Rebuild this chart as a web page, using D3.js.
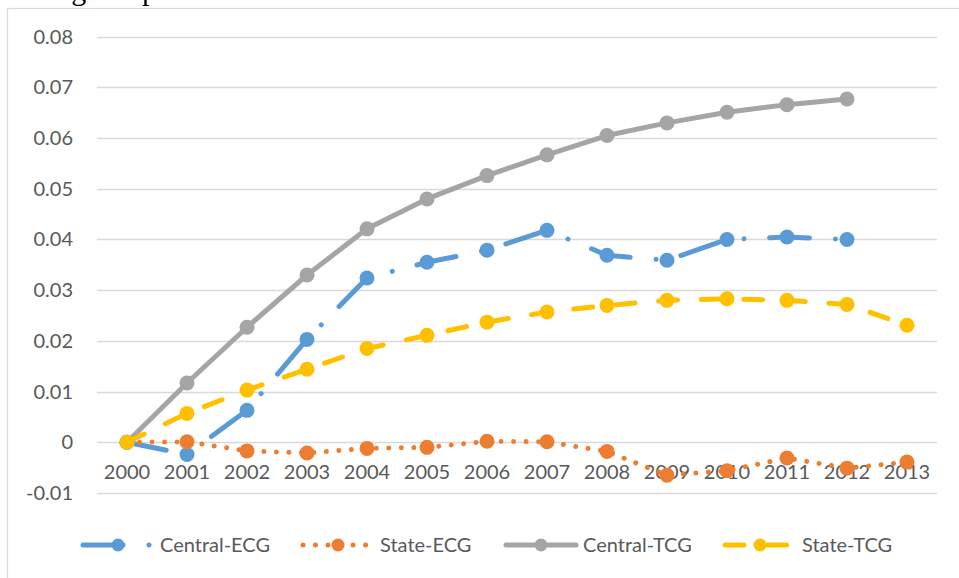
<!DOCTYPE html>
<html>
<head>
<meta charset="utf-8">
<script src="https://cdn.jsdelivr.net/npm/d3@7"></script>
<style>
  html, body { margin: 0; padding: 0; background: #fff; }
  svg { display: block; }
  text { font-family: Lato, "Open Sans", sans-serif; fill: #595959; }
</style>
</head>
<body>
<svg id="chart" width="959" height="578"></svg>
<script>
// Growth series by year
const years = ["2000","2001","2002","2003","2004","2005","2006","2007","2008","2009","2010","2011","2012","2013"];
const centralECG = [0, -0.0024, 0.0063, 0.0203, 0.0324, 0.0355, 0.0379, 0.0418, 0.0369, 0.0359, 0.0400, 0.0405, 0.0400, null];
const stateECG   = [0, 0.0001, -0.0017, -0.0021, -0.0012, -0.0010, 0.0002, 0.0001, -0.0018, -0.0065, -0.0056, -0.0031, -0.0051, -0.0039];
const centralTCG = [0, 0.0117, 0.0227, 0.0330, 0.0421, 0.0480, 0.0526, 0.0567, 0.0605, 0.0630, 0.0651, 0.0666, 0.0677, null];
const stateTCG   = [0, 0.0057, 0.0103, 0.0144, 0.0185, 0.0211, 0.0237, 0.0257, 0.0270, 0.0280, 0.0283, 0.0280, 0.0272, 0.0231];
const yTicks = [-0.01, 0, 0.01, 0.02, 0.03, 0.04, 0.05, 0.06, 0.07, 0.08];
const yTickLabels = ["-0.01", "0", "0.01", "0.02", "0.03", "0.04", "0.05", "0.06", "0.07", "0.08"];

const series = [
  { name: "Central-ECG", values: centralECG, color: "#5B9BD5", dash: "40,26,0.01,25.5" },
  { name: "State-ECG",   values: stateECG,   color: "#ED7D31", dash: "0.01,12.5" },
  { name: "Central-TCG", values: centralTCG, color: "#A5A5A5", dash: null },
  { name: "State-TCG",   values: stateTCG,   color: "#FFC000", dash: "19,23.6" }
];

const svg = d3.select("#chart");

// heading above the chart frame (runs off the top edge)
svg.append("text")
  .attr("x", 8).attr("y", 0)
  .style("font-family", "'Liberation Serif', 'Times New Roman', serif")
  .style("font-size", "30px")
  .style("fill", "#000")
  .text("Change Gap");

// chart frame
svg.append("rect")
  .attr("x", 7.5).attr("y", 8.5)
  .attr("width", 1000).attr("height", 700)
  .attr("fill", "#fff")
  .attr("stroke", "#D9D9D9").attr("stroke-width", 1.2);

const plot = { left: 97, right: 937, top: 36.7, bottom: 493 };

const x = d3.scaleBand().domain(years).range([plot.left, plot.right]);
const y = d3.scaleLinear().domain([-0.01, 0.08]).range([plot.bottom, plot.top]);
const cx = d => x(d) + x.bandwidth() / 2;

// horizontal gridlines
svg.append("g")
  .selectAll("line")
  .data(yTicks)
  .join("line")
  .attr("x1", plot.left).attr("x2", plot.right)
  .attr("y1", d => Math.round(y(d)) + 0.5).attr("y2", d => Math.round(y(d)) + 0.5)
  .attr("stroke", "#D9D9D9").attr("stroke-width", 1.3);

// value axis labels
const yAxis = d3.axisLeft(y).tickValues(yTicks).tickSize(0).tickPadding(0)
  .tickFormat((d, i) => yTickLabels[i]);
const gy = svg.append("g").attr("transform", "translate(73,0)").call(yAxis);
gy.select(".domain").remove();
gy.selectAll("text")
  .style("font-family", "Lato, sans-serif")
  .style("font-size", "20px")
  .attr("fill", "#595959");

// category labels sit just below the zero line
const xAxis = d3.axisBottom(x).tickSize(0).tickPadding(0);
const gx = svg.append("g").attr("transform", `translate(0,${y(0) + 30})`).call(xAxis);
gx.select(".domain").remove();
gx.selectAll("text")
  .style("font-family", "Lato, sans-serif")
  .style("font-size", "20px")
  .attr("fill", "#595959")
  .attr("dy", "0.35em")
  .attr("y", 0);

// series lines and markers
const line = d3.line()
  .defined(d => d.v !== null)
  .x(d => cx(d.year))
  .y(d => y(d.v));

series.forEach(s => {
  const pts = years.map((yr, i) => ({ year: yr, v: s.values[i] }));
  const g = svg.append("g");
  g.append("path")
    .datum(pts)
    .attr("d", line)
    .attr("fill", "none")
    .attr("stroke", s.color)
    .attr("stroke-width", 5)
    .attr("stroke-linecap", "round")
    .attr("stroke-linejoin", "round")
    .attr("stroke-dasharray", s.dash);
  g.selectAll("circle")
    .data(pts.filter(d => d.v !== null))
    .join("circle")
    .attr("cx", d => cx(d.year))
    .attr("cy", d => y(d.v))
    .attr("r", 7.5)
    .attr("fill", s.color);
});

// legend
const legendY = 545;
const legendStarts = [83, 303, 506, 725];
series.forEach((s, i) => {
  const x0 = legendStarts[i];
  const g = svg.append("g");
  g.append("line")
    .attr("x1", x0).attr("x2", x0 + 70)
    .attr("y1", legendY).attr("y2", legendY)
    .attr("stroke", s.color)
    .attr("stroke-width", 5)
    .attr("stroke-linecap", "round")
    .attr("stroke-dasharray", s.dash);
  g.append("circle")
    .attr("cx", x0 + 35).attr("cy", legendY)
    .attr("r", 6.5)
    .attr("fill", s.color);
  g.append("text")
    .attr("x", x0 + 77).attr("y", legendY)
    .attr("dy", "0.35em")
    .style("font-size", "20px")
    .text(s.name);
});
</script>
</body>
</html>
